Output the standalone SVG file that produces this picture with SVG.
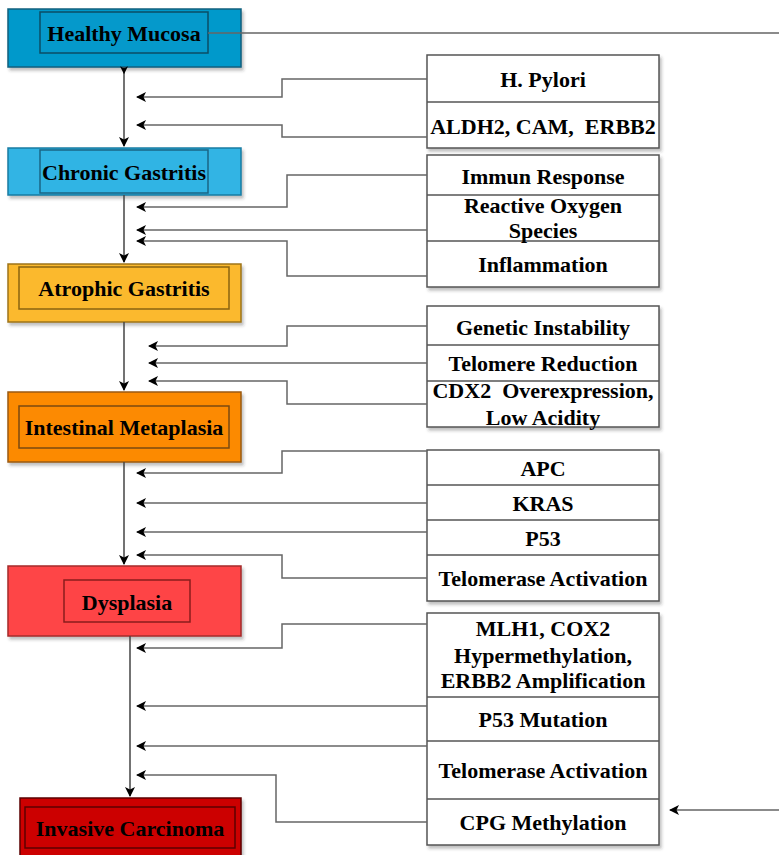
<svg xmlns="http://www.w3.org/2000/svg" width="779" height="855" viewBox="0 0 779 855">
<defs>
<style>
.t{font-family:"Liberation Serif","Times New Roman",serif;font-weight:bold;font-size:22px;fill:#000;text-anchor:middle}
.rb{fill:#fff;stroke:#555;stroke-width:1.5}
.dv{stroke:#555;stroke-width:1.5;fill:none}
.c{fill:none;stroke:#666;stroke-width:1.5}
.v{fill:none;stroke:#444;stroke-width:1.5}
</style>
<filter id="sh" x="-10%" y="-10%" width="130%" height="130%">
<feDropShadow dx="2" dy="3" stdDeviation="1.5" flood-color="#333" flood-opacity="0.3"/>
</filter>
<marker id="a" viewBox="0 0 10 10" refX="9" refY="5" markerWidth="10" markerHeight="10" markerUnits="userSpaceOnUse" orient="auto">
<path d="M0,0 L10,5 L0,10 L2.5,5 Z" fill="#000"/>
</marker>
<marker id="s" viewBox="0 0 10 10" refX="1" refY="5" markerWidth="8" markerHeight="8" markerUnits="userSpaceOnUse" orient="auto">
<path d="M0,0 L10,5 L0,10 L2.5,5 Z" fill="#000"/>
</marker>
</defs>

<g id="healthy-mucosa">
<rect x="8" y="9" width="233" height="58" fill="#0599cb" stroke="#0b5f7e" stroke-width="1.5" filter="url(#sh)"/>
<rect x="40" y="12" width="168" height="41" fill="#0599cb" stroke="#0b4d66" stroke-width="1.5"/>
<text class="t" x="124" y="41">Healthy Mucosa</text>
</g>

<g id="chronic-gastritis">
<rect x="8" y="148" width="233" height="47" fill="#30b4e4" stroke="#1a7ca3" stroke-width="1.5" filter="url(#sh)"/>
<rect x="40" y="150" width="168" height="43" fill="#30b4e4" stroke="#1a6585" stroke-width="1.5"/>
<text class="t" x="124" y="180">Chronic Gastritis</text>
</g>

<g id="atrophic-gastritis">
<rect x="8" y="264" width="233" height="58" fill="#fbb92d" stroke="#9e7418" stroke-width="1.5" filter="url(#sh)"/>
<rect x="19" y="267" width="210" height="42" fill="#fbb92d" stroke="#8a6410" stroke-width="1.5"/>
<text class="t" x="124" y="296">Atrophic Gastritis</text>
</g>

<g id="intestinal-metaplasia">
<rect x="8" y="392" width="233" height="70" fill="#fc8a02" stroke="#9a5a10" stroke-width="1.5" filter="url(#sh)"/>
<rect x="19" y="406" width="210" height="42" fill="#fc8a02" stroke="#7a4a10" stroke-width="1.5"/>
<text class="t" x="124" y="435">Intestinal Metaplasia</text>
</g>

<g id="dysplasia">
<rect x="8" y="566" width="233" height="70" fill="#fe4446" stroke="#a52a2a" stroke-width="1.5" filter="url(#sh)"/>
<rect x="64" y="580" width="126" height="42" fill="#fe4446" stroke="#8a1c1c" stroke-width="1.5"/>
<text class="t" x="127" y="610">Dysplasia</text>
</g>

<g id="invasive-carcinoma">
<rect x="20" y="798" width="221" height="70" fill="#cc0000" stroke="#5c0000" stroke-width="1.5" filter="url(#sh)"/>
<rect x="25" y="807" width="210" height="41" fill="#cc0000" stroke="#5c0000" stroke-width="1.5"/>
<text class="t" x="130" y="836">Invasive Carcinoma</text>
</g>

<g id="factors-1">
<rect class="rb" x="427" y="55" width="232" height="93" filter="url(#sh)"/>
<path class="dv" d="M427,102 H659"/>
<text class="t" x="543" y="87">H. Pylori</text>
<text class="t" x="543" y="134" xml:space="preserve">ALDH2, CAM,  ERBB2</text>
</g>

<g id="factors-2">
<rect class="rb" x="427" y="155" width="232" height="132" filter="url(#sh)"/>
<path class="dv" d="M427,195 H659 M427,241 H659"/>
<text class="t" x="543" y="184">Immun Response</text>
<text class="t" x="543" y="213">Reactive Oxygen</text>
<text class="t" x="543" y="238">Species</text>
<text class="t" x="543" y="272">Inflammation</text>
</g>

<g id="factors-3">
<rect class="rb" x="427" y="306" width="232" height="121" filter="url(#sh)"/>
<path class="dv" d="M427,345 H659 M427,381 H659"/>
<text class="t" x="543" y="335">Genetic Instability</text>
<text class="t" x="543" y="371">Telomere Reduction</text>
<text class="t" x="543" y="398" xml:space="preserve">CDX2  Overexpression,</text>
<text class="t" x="543" y="425">Low Acidity</text>
</g>

<g id="factors-4">
<rect class="rb" x="427" y="450" width="232" height="151" filter="url(#sh)"/>
<path class="dv" d="M427,485 H659 M427,520 H659 M427,555 H659"/>
<text class="t" x="543" y="476">APC</text>
<text class="t" x="543" y="511">KRAS</text>
<text class="t" x="543" y="546">P53</text>
<text class="t" x="543" y="586">Telomerase Activation</text>
</g>

<g id="factors-5">
<rect class="rb" x="427" y="613" width="232" height="232" filter="url(#sh)"/>
<path class="dv" d="M427,697 H659 M427,741 H659 M427,799 H659"/>
<text class="t" x="543" y="636">MLH1, COX2</text>
<text class="t" x="543" y="663">Hypermethylation,</text>
<text class="t" x="543" y="688">ERBB2 Amplification</text>
<text class="t" x="543" y="727">P53 Mutation</text>
<text class="t" x="543" y="778">Telomerase Activation</text>
<text class="t" x="543" y="830">CPG Methylation</text>
</g>

<g id="connectors">
<path class="v" d="M124,67 V146" marker-start="url(#s)" marker-end="url(#a)"/>
<path class="v" d="M124,195 V262" marker-end="url(#a)"/>
<path class="v" d="M124,322 V390" marker-end="url(#a)"/>
<path class="v" d="M124,462 V564" marker-end="url(#a)"/>
<path class="v" d="M130,636 V796" marker-end="url(#a)"/>

<path class="c" d="M208,33 H800 V810 H670" marker-end="url(#a)"/>

<path class="c" d="M427,79 H282 V97 H137" marker-end="url(#a)"/>
<path class="c" d="M427,137 H282 V125 H137" marker-end="url(#a)"/>
<path class="c" d="M427,175 H287 V207 H137" marker-end="url(#a)"/>
<path class="c" d="M427,230 H137" marker-end="url(#a)"/>
<path class="c" d="M427,276 H287 V241 H137" marker-end="url(#a)"/>
<path class="c" d="M427,326 H287 V346 H149" marker-end="url(#a)"/>
<path class="c" d="M427,363 H149" marker-end="url(#a)"/>
<path class="c" d="M427,404 H287 V381 H149" marker-end="url(#a)"/>
<path class="c" d="M427,451 H282 V473 H137" marker-end="url(#a)"/>
<path class="c" d="M427,503 H137" marker-end="url(#a)"/>
<path class="c" d="M427,532 H137" marker-end="url(#a)"/>
<path class="c" d="M427,578 H282 V555 H137" marker-end="url(#a)"/>
<path class="c" d="M427,624 H282 V648 H137" marker-end="url(#a)"/>
<path class="c" d="M427,706 H137" marker-end="url(#a)"/>
<path class="c" d="M427,746 H137" marker-end="url(#a)"/>
<path class="c" d="M427,822 H276 V775 H137" marker-end="url(#a)"/>
</g>
</svg>
